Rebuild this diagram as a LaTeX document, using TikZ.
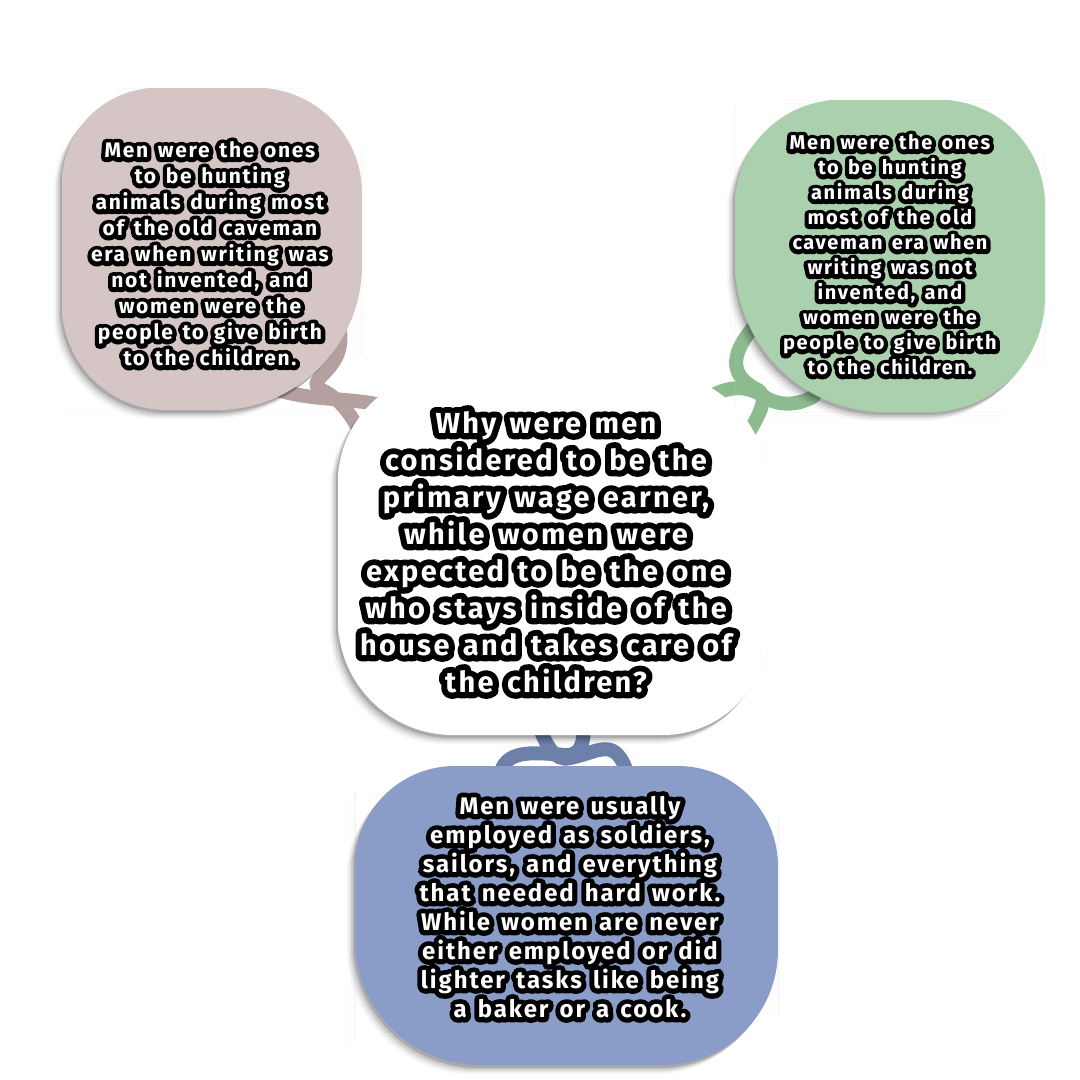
\documentclass[tikz,border=0pt]{standalone}
\usepackage{fontspec}
\newfontfamily\handw{Fira Sans Bold}[LetterSpace=8.0, WordSpace=1.45]
\newfontfamily\handk{Fira Sans Bold}[LetterSpace=8.0, WordSpace=1.45, FakeBold=42]
\usetikzlibrary{calc,shadows}
\definecolor{pinkfill}{HTML}{D5C5C5}
\definecolor{pinkconn}{HTML}{B5A0A0}
\definecolor{greenfill}{HTML}{ABD0AD}
\definecolor{greenconn}{HTML}{8DBB90}
\definecolor{bluefill}{HTML}{8A9DC9}
\definecolor{blueconn}{HTML}{6D80AA}
\tikzset{
  x=1pt, y=-1pt,
  conn/.style={line width=14pt, line cap=round},
  blobshadow/.style={
    general shadow={shadow xshift=-8pt, shadow yshift=-9pt, fill=black, opacity=0.04},
    general shadow={shadow xshift=-6pt, shadow yshift=-7pt, fill=black, opacity=0.07},
    general shadow={shadow xshift=-4pt, shadow yshift=-5pt, fill=black, opacity=0.1},
    general shadow={shadow xshift=-2pt, shadow yshift=-3pt, fill=black, opacity=0.16}},
  tbase/.style={align=center, inner sep=0pt},
}
% blob: name, colour, x1, y1, x2, y2, radii TL/TR/BR/BL
\newcommand\blob[7]{%
  \def\xa{#3}\def\ya{#4}\def\xb{#5}\def\yb{#6}%
  \pgfmathsetmacro\xm{(#3+#5)/2}\pgfmathsetmacro\ym{(#4+#6)/2}%
  \coordinate (#1) at (\xm,\ym);
  \blobcorners#7\relax
  \path[blobshadow, fill=#2] (\xa,\ym) [rounded corners=\rTL pt] -- (\xa,\ya) -- (\xm,\ya)
     [rounded corners=\rTR pt] -- (\xb,\ya) -- (\xb,\ym)
     [rounded corners=\rBR pt] -- (\xb,\yb) -- (\xm,\yb)
     [rounded corners=\rBL pt] -- (\xa,\yb) -- cycle;
}
\def\blobcorners#1/#2/#3/#4\relax{\def\rTL{#1}\def\rTR{#2}\def\rBR{#3}\def\rBL{#4}}
\newcommand\halo[6]{% name, x, y, size, leading, text
  \node[tbase, text=black, font=\handk\fontsize{#4}{#5}\selectfont] (#1-halo) at (#2,#3) {\special{pdf:literal direct 1 j 1 J}#6};
  \node[tbase, text=white, font=\handw\fontsize{#4}{#5}\selectfont] (#1) at (#2,#3) {#6};
}
\begin{document}
\begin{tikzpicture}
\useasboundingbox (0,0) rectangle (1080,1080);
\fill[white] (0,0) rectangle (1080,1080);

% connector end points
\coordinate (pa1) at (338,322);
\coordinate (pa2) at (360,432);
\coordinate (pb1) at (278,390);
\coordinate (pb2) at (376,404);
\coordinate (ga1) at (760,320);
\coordinate (ga2) at (740,448);
\coordinate (gb1) at (696,406);
\coordinate (gb2) at (814,396);
\coordinate (ba1) at (500,775);
\coordinate (ba2) at (582,720);
\coordinate (bb1) at (537,720);
\coordinate (bb2) at (628,775);

% connectors
\draw[conn, pinkconn] (pa1) .. controls (352,372) and (300,378) .. (322,390) .. controls (338,398) and (350,412) .. (pa2);
\draw[conn, pinkconn] (pb1) .. controls (310,400) and (345,398) .. (pb2);
\draw[conn, greenconn] (ga1) .. controls (720,362) and (738,380) .. (758,390) .. controls (772,400) and (752,425) .. (ga2);
\draw[conn, greenconn] (gb1) .. controls (725,384) and (745,384) .. (765,397) .. controls (778,406) and (798,406) .. (gb2);
\draw[conn, blueconn] (ba1) .. controls (505,750) and (530,752) .. (565,755) .. controls (582,757) and (586,738) .. (ba2);
\draw[conn, blueconn] (bb1) .. controls (545,745) and (555,762) .. (570,758) .. controls (600,752) and (615,735) .. (bb2);

% blobs
\blob{pink}{pinkfill}{62}{88}{362}{410}{95/105/145/105}
\blob{green}{greenfill}{735}{100}{1045}{412}{105/105/115/150}
\blob{center}{white}{338}{372}{768}{735}{110/115/105/115}
\blob{blue}{bluefill}{355}{766}{778}{1065}{100/100/115/125}

% texts
\halo{pinkt}{210}{254}{21}{26}{Men were the ones\\to be hunting\\animals during most\\of the old caveman\\era when writing was\\not invented, and\\women were the\\people to give birth\\to the children.}
\halo{greent}{890}{255}{20}{25}{Men were the ones\\to be hunting\\animals during\\most of the old\\caveman era when\\writing was not\\invented, and\\women were the\\people to give birth\\to the children.}
\halo{centert}{546}{552}{29}{37}{Why were men\\considered to be the\\primary wage earner,\\while women were\\expected to be the one\\who stays inside of the\\house and takes care of\\the children?}
\halo{bluet}{570}{907}{24}{29}{Men were usually\\employed as soldiers,\\sailors, and everything\\that needed hard work.\\While women are never\\either employed or did\\lighter tasks like being\\a baker or a cook.}
\end{tikzpicture}
\end{document}
